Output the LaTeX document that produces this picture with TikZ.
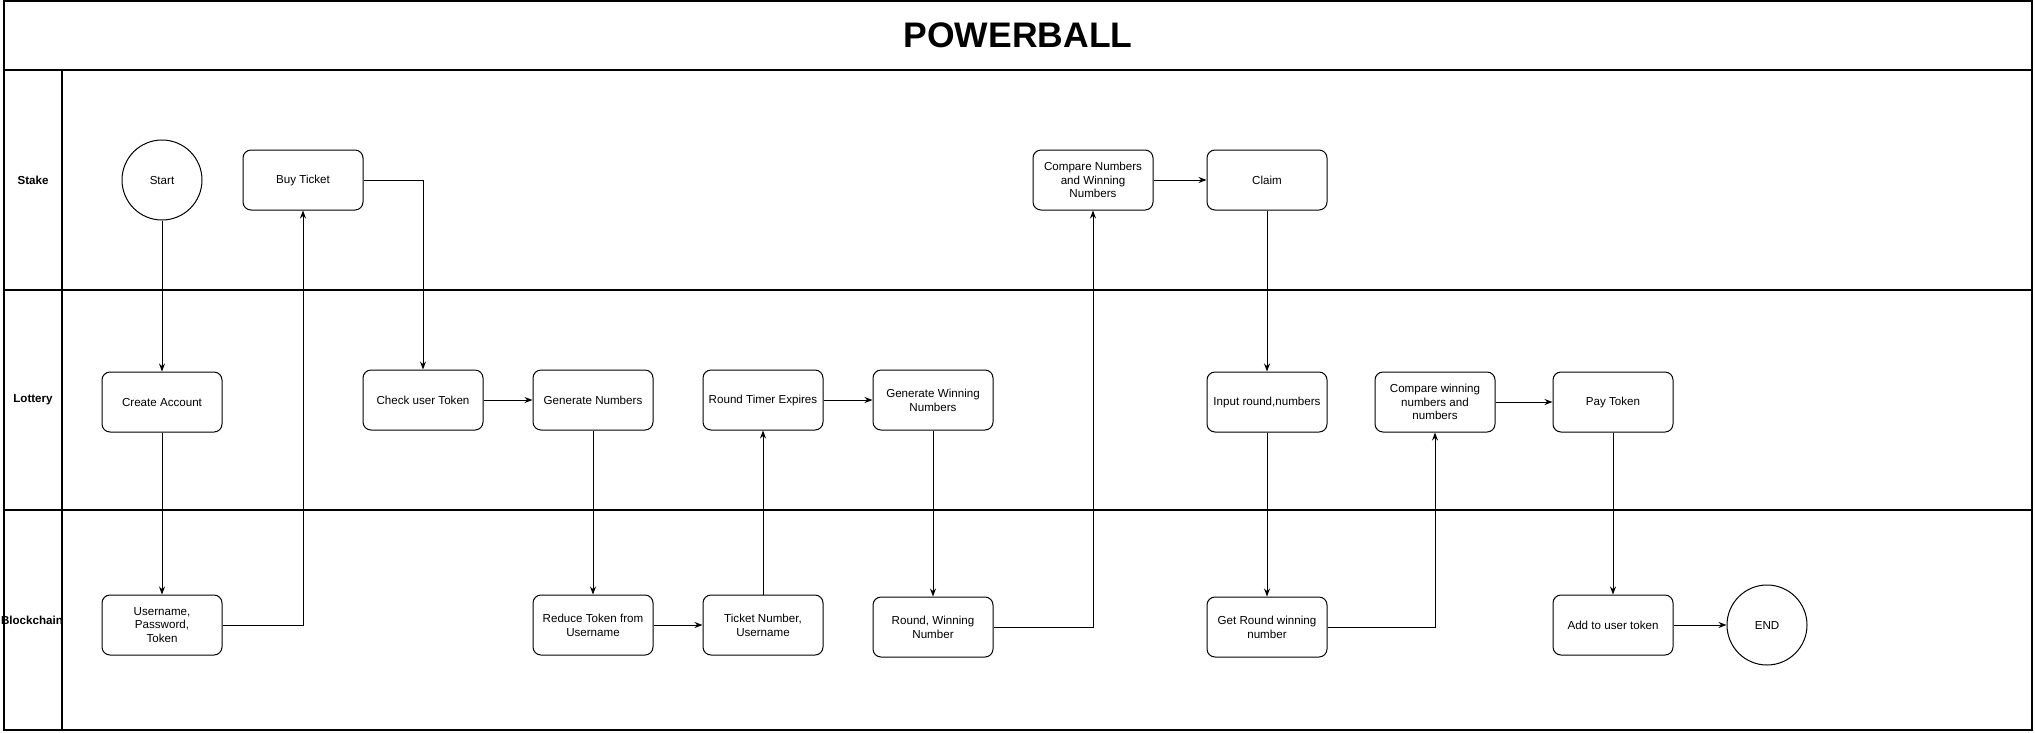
\documentclass[tikz,border=0pt]{standalone}
\usepackage{fontspec}
\setmainfont{Liberation Sans}
\usetikzlibrary{positioning,arrows.meta,shapes}

\tikzset{
  box/.style={draw,line width=1pt,rounded corners=8pt,minimum width=120pt,minimum height=60pt,
    align=center,inner sep=2pt,font=\fontsize{11.6}{13.8}\selectfont},
  term/.style={draw,line width=1pt,circle,minimum size=80pt,inner sep=0pt,font=\fontsize{11.6}{13.8}\selectfont},
  flow/.style={line width=1pt,-{Stealth[length=8pt,width=6pt]}},
  lanename/.style={font=\fontsize{11.6}{13}\selectfont\bfseries},
  frame/.style={line width=1.2pt}
}

\begin{document}
\begin{tikzpicture}[x=1pt,y=-1pt]
\useasboundingbox (0,0) rectangle (2035,732);
% pool and lanes
\draw[frame] (4,1) rectangle (2032,730);
\draw[frame] (4,70) -- (2032,70);
\draw[frame] (4,290) -- (2032,290);
\draw[frame] (4,510) -- (2032,510);
\draw[frame] (62,70) -- (62,730);
\node[font=\fontsize{35.5}{40}\selectfont\bfseries] (title) at (1018,35) {POWERBALL};
\node[lanename] (stake) at (33,180) {Stake};
\node[lanename] (lottery) at (33,400) {Lottery};
\node[lanename] (chain) at (32,620) {Blockchain};

% Stake
\node[term] (start) at (162,180) {Start};
\node[box] (buyticket) at (303,180) {Buy Ticket};
\node[box] (comparenum) at (1093,180) {Compare Numbers\\and Winning\\Numbers};
\node[box] (claim) at (1267,180) {Claim};

% Lottery
\node[box] (createacc) at (162,402) {Create Account};
\node[box] (checktoken) at (423,400) {Check user Token};
\node[box] (gennum) at (593,400) {Generate Numbers};
\node[box] (timer) at (763,400) {Round Timer Expires};
\node[box] (genwin) at (933,400) {Generate Winning\\Numbers};
\node[box] (inputround) at (1267,402) {Input round,numbers};
\node[box] (comparewin) at (1435,402) {Compare winning\\numbers and\\numbers};
\node[box] (paytoken) at (1613,402) {Pay Token};

% Blockchain
\node[box] (userdata) at (162,625) {Username,\\Password,\\Token};
\node[box] (reducetoken) at (593,625) {Reduce Token from\\Username};
\node[box] (ticketnum) at (763,625) {Ticket Number,\\Username};
\node[box] (roundwin) at (933,627) {Round, Winning\\Number};
\node[box] (getround) at (1267,627) {Get Round winning\\number};
\node[box] (addtoken) at (1613,625) {Add to user token};
\node[term] (finish) at (1767,625) {END};

% connectors
\draw[flow] (start) -- (createacc);
\draw[flow] (createacc) -- (userdata);
\draw[flow] (userdata.east) -| (buyticket.south);
\draw[flow] (buyticket.east) -| (checktoken.north);
\draw[flow] (checktoken) -- (gennum);
\draw[flow] (gennum) -- (reducetoken);
\draw[flow] (reducetoken) -- (ticketnum);
\draw[flow] (ticketnum) -- (timer);
\draw[flow] (timer) -- (genwin);
\draw[flow] (genwin) -- (roundwin);
\draw[flow] (roundwin.east) -| (comparenum.south);
\draw[flow] (comparenum) -- (claim);
\draw[flow] (claim) -- (inputround);
\draw[flow] (inputround) -- (getround);
\draw[flow] (getround.east) -| (comparewin.south);
\draw[flow] (comparewin) -- (paytoken);
\draw[flow] (paytoken) -- (addtoken);
\draw[flow] (addtoken) -- (finish);
\end{tikzpicture}
\end{document}
